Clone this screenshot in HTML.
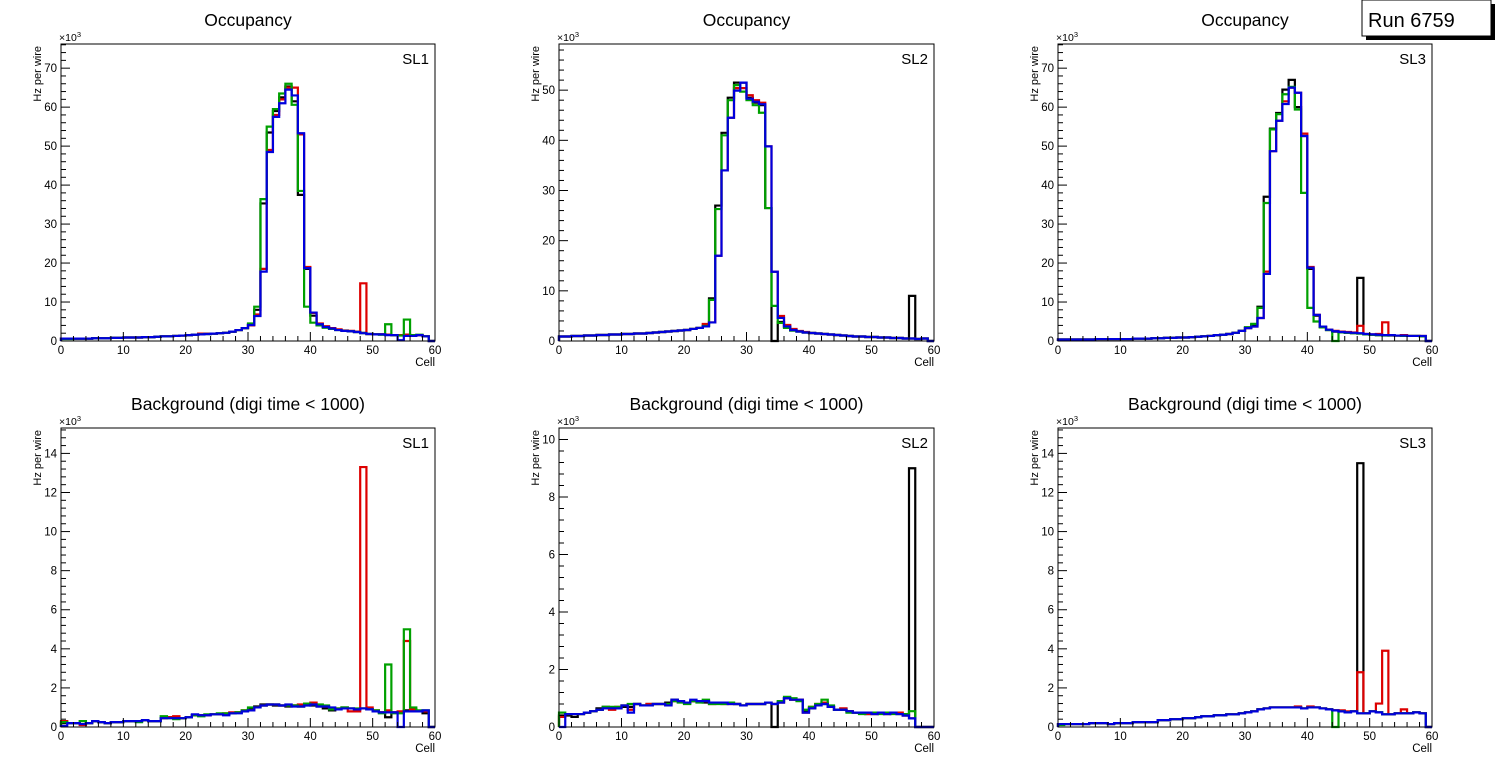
<!DOCTYPE html>
<html><head><meta charset="utf-8"><style>
html,body{margin:0;padding:0;background:#fff;}
svg{display:block;font-family:"Liberation Sans",Arial,sans-serif;}
</style></head><body>
<svg id="c" width="1496" height="772" viewBox="0 0 1496 772" xmlns="http://www.w3.org/2000/svg">
<rect x="0" y="0" width="1496" height="772" fill="#fff"/>
<g>
<rect x="1366" y="4" width="129" height="36" fill="#000"/>
<rect x="1362" y="0" width="129" height="36" fill="#fff" stroke="#000" stroke-width="1"/>
<text x="1368" y="27" font-size="20" fill="#000">Run 6759</text>
</g>
</svg>
<script>
const cells = 60;
// ---- Top SL1 (x10^3 Hz)
const occSL1Black = [0.6,0.6,0.6,0.6,0.6,0.7,0.7,0.7,0.8,0.8,0.9,0.9,0.9,1.0,1.0,1.1,1.2,1.2,1.3,1.4,1.5,1.6,1.7,1.8,1.9,2.0,2.1,2.4,2.8,3.3,4.2,8,35.3,53.5,59,62.5,65.3,61.5,37.5,18.5,6.5,4.2,3.6,3.2,2.9,2.6,2.5,2.3,2.1,1.8,1.7,1.7,1.6,1.5,1.5,1.6,1.4,1.5,1.2,0];
const occSL1Red = [0.6,0.6,0.6,0.6,0.6,0.7,0.7,0.7,0.8,0.8,0.9,0.9,0.9,1.0,1.0,1.1,1.2,1.2,1.3,1.4,1.5,1.6,1.9,1.9,1.9,2.0,2.1,2.4,2.8,3.3,4,6.8,18.5,49,58,62,65,65,53,19,7.2,4.5,3.8,3.3,3,2.7,2.6,2.4,14.8,1.8,1.7,1.7,1.6,1.5,1.5,1.6,1.5,1.5,1.2,0];
const occSL1Green = [0.5,0.5,0.6,0.6,0.6,0.7,0.7,0.7,0.8,0.8,0.9,0.9,0.9,1.0,1.0,1.1,1.2,1.2,1.3,1.4,1.5,1.6,1.7,1.8,1.9,2.0,2.1,2.4,2.8,3.3,4.5,8.8,36.4,55,59.5,63.5,66,60.6,38.5,8.8,4.7,4.0,3.4,3.1,2.8,2.6,2.5,2.3,2.0,1.8,1.7,1.6,4.3,1.5,1.4,5.5,1.5,1.6,1.2,0];
const occSL1Blue = [0.6,0.6,0.6,0.6,0.6,0.7,0.7,0.7,0.8,0.8,0.9,0.9,0.9,1.0,1.0,1.1,1.2,1.2,1.3,1.4,1.5,1.6,1.7,1.8,1.9,2.0,2.1,2.4,2.8,3.3,4.1,6.4,17.8,48.5,57.5,61,64.5,63,53.3,18.7,7.3,4.3,3.6,3.2,2.8,2.6,2.5,2.3,2,1.8,1.7,1.7,1.5,1.5,0.2,1.3,1.3,1.5,1.2,0];
// ---- Top SL2
const occSL2Black = [0.9,0.9,1.0,1.0,1.1,1.1,1.2,1.2,1.3,1.3,1.4,1.4,1.5,1.5,1.6,1.7,1.8,1.9,2.0,2.1,2.2,2.4,2.6,3.0,8.5,27,41.5,48.5,51.5,51.5,48.5,47.5,47,26.5,0,3.8,2.8,2.1,1.9,1.7,1.6,1.5,1.4,1.3,1.2,1.1,1.0,0.9,0.9,0.8,0.8,0.7,0.7,0.6,0.6,0.5,9,0.4,0.5,0];
const occSL2Red = [0.9,0.9,1.0,1.0,1.1,1.1,1.2,1.2,1.3,1.3,1.4,1.4,1.5,1.5,1.6,1.7,1.8,1.9,2.0,2.1,2.2,2.4,2.6,3.4,3.7,17,34,44.5,50.4,50.4,49,48,47.5,38.8,13.8,5.0,3.2,2.4,2.0,1.8,1.6,1.5,1.4,1.3,1.2,1.1,1.0,0.9,0.9,0.8,0.8,0.7,0.7,0.6,0.6,0.5,0.5,0.4,0.5,0];
const occSL2Green = [0.9,0.9,1.0,1.0,1.1,1.1,1.2,1.2,1.3,1.3,1.4,1.4,1.5,1.5,1.6,1.7,1.8,1.9,2.0,2.1,2.2,2.4,2.6,3.0,8.2,26.3,41,48,51,49.7,48,47,45.5,26.5,7,3.6,2.6,2.1,1.9,1.7,1.6,1.5,1.4,1.3,1.2,1.1,1.0,0.9,0.9,0.8,0.8,0.7,0.7,0.6,0.6,0.5,0.5,0.4,0.5,0];
const occSL2Blue = [0.9,0.9,1.0,1.0,1.1,1.1,1.2,1.2,1.3,1.3,1.4,1.4,1.5,1.5,1.6,1.7,1.8,1.9,2.0,2.1,2.2,2.4,2.6,2.9,3.7,17,34,44.5,49.9,51.5,48.3,47.7,47.2,38.8,13.8,4.6,2.9,2.2,1.9,1.7,1.6,1.5,1.4,1.3,1.2,1.1,1.0,0.9,0.9,0.8,0.8,0.7,0.7,0.6,0.6,0.5,0.5,0.4,0.5,0];
// ---- Top SL3
const occSL3Black = [0.4,0.4,0.4,0.4,0.4,0.4,0.5,0.5,0.5,0.5,0.5,0.5,0.6,0.6,0.6,0.7,0.7,0.8,0.8,0.9,0.9,1.0,1.1,1.2,1.3,1.5,1.6,1.8,2.1,2.6,3.5,4.2,8.8,37,54.5,58.5,64.5,67,60,52.6,18.5,6.5,3.6,2.8,2.4,2.2,2.1,2.0,16.2,1.7,1.6,1.5,1.5,1.4,1.4,1.4,1.3,1.3,1.2,0];
const occSL3Red = [0.4,0.4,0.4,0.4,0.4,0.4,0.5,0.5,0.5,0.5,0.5,0.5,0.6,0.6,0.6,0.7,0.7,0.8,0.8,0.9,0.9,1.0,1.1,1.2,1.3,1.5,1.6,1.8,2.1,2.6,3.3,3.7,5.9,17.8,48.7,56.5,61.5,65,63.7,53.2,19,6.7,3.7,2.9,2.6,2.4,2.3,2.2,3.9,1.8,1.7,1.8,4.8,1.5,1.4,1.5,1.3,1.3,1.3,0];
const occSL3Green = [0.4,0.4,0.4,0.4,0.4,0.4,0.5,0.5,0.5,0.5,0.5,0.5,0.6,0.6,0.6,0.7,0.7,0.8,0.8,0.9,0.9,1.0,1.1,1.2,1.3,1.5,1.6,1.8,2.1,2.6,3.5,4.4,8.5,35.4,54.3,58.2,63.3,65.2,59.4,38,8.5,5,3.5,2.8,0,2.2,2.1,2,1.9,1.7,1.6,1.5,1.4,1.5,1.4,1.3,1.3,1.3,1.2,0];
const occSL3Blue = [0.4,0.4,0.4,0.4,0.4,0.4,0.5,0.5,0.5,0.5,0.5,0.5,0.6,0.6,0.6,0.7,0.7,0.8,0.8,0.9,0.9,1.0,1.1,1.2,1.3,1.5,1.6,1.8,2.1,2.6,3.3,3.7,5.9,17.2,48.7,56.5,60.8,65,63.7,52.6,18.8,6.7,3.7,2.9,2.5,2.3,2.2,2.1,2.0,1.8,1.7,1.6,1.5,1.5,1.4,1.4,1.3,1.3,1.3,0];
// ---- Bottom SL1
const bkgSL1Black = [0.2,0.2,0.2,0.15,0.2,0.3,0.25,0.2,0.25,0.25,0.3,0.3,0.3,0.35,0.3,0.3,0.45,0.5,0.45,0.45,0.5,0.6,0.6,0.6,0.65,0.65,0.65,0.7,0.75,0.8,0.9,1.05,1.15,1.15,1.1,1.1,1.05,1.1,1.05,1.15,1.1,1.05,0.95,0.85,0.9,1.0,0.95,0.9,0.95,0.9,0.8,0.75,0.5,0.75,0.75,0.85,0.9,0.8,0.7,0];
const bkgSL1Red = [0.3,0.2,0.2,0.1,0.2,0.3,0.25,0.2,0.25,0.25,0.3,0.3,0.3,0.35,0.3,0.3,0.45,0.5,0.55,0.45,0.5,0.6,0.6,0.6,0.65,0.65,0.7,0.75,0.75,0.85,0.85,1.0,1.1,1.15,1.15,1.1,1.1,1.1,1.15,1.2,1.25,1.1,1.05,0.95,0.95,0.95,0.8,0.8,13.3,1.0,0.85,0.75,0.85,0.75,0.8,4.4,0.9,0.8,0.8,0];
const bkgSL1Green = [0.25,0.2,0.2,0.3,0.2,0.3,0.25,0.2,0.25,0.25,0.3,0.3,0.25,0.35,0.3,0.3,0.55,0.45,0.4,0.45,0.5,0.6,0.55,0.65,0.65,0.7,0.7,0.7,0.75,0.85,1.0,1.0,1.1,1.15,1.15,1.1,1.1,1.1,1.05,1.2,1.15,1.15,1.1,0.9,0.95,1.0,0.95,0.95,0.95,0.9,0.85,0.7,3.2,0.7,0.7,5.0,1.0,0.85,0.85,0];
const bkgSL1Blue = [0.05,0.2,0.2,0.15,0.2,0.3,0.25,0.2,0.25,0.25,0.3,0.3,0.3,0.35,0.3,0.3,0.45,0.45,0.45,0.45,0.5,0.65,0.6,0.6,0.65,0.65,0.6,0.7,0.7,0.8,0.85,1.0,1.1,1.15,1.15,1.1,1.15,1.05,1.05,1.1,1.15,1.05,1.05,1.0,0.9,0.95,0.95,0.9,0.95,0.9,0.8,0.75,0.75,0.75,0,0.8,0.8,0.8,0.85,0];
// ---- Bottom SL2
const bkgSL2Black = [0.4,0.4,0.35,0.45,0.5,0.55,0.65,0.7,0.65,0.65,0.7,0.7,0.8,0.75,0.8,0.8,0.8,0.85,0.95,0.9,0.85,0.9,0.9,0.85,0.85,0.85,0.85,0.85,0.8,0.75,0.8,0.8,0.8,0.85,0,0.85,1.0,0.95,0.95,0.55,0.65,0.75,0.8,0.7,0.6,0.6,0.55,0.5,0.5,0.45,0.45,0.5,0.45,0.5,0.45,0.4,9.0,0,0,0];
const bkgSL2Red = [0.35,0.45,0.45,0.45,0.5,0.55,0.6,0.65,0.6,0.7,0.75,0.6,0.8,0.75,0.8,0.8,0.8,0.75,0.9,0.9,0.85,0.9,0.9,0.9,0.8,0.85,0.8,0.8,0.8,0.75,0.8,0.8,0.8,0.85,0.8,0.85,1.0,0.95,0.95,0.5,0.7,0.8,0.85,0.7,0.6,0.65,0.55,0.5,0.5,0.45,0.45,0.5,0.45,0.5,0.5,0.4,0.3,0,0,0];
const bkgSL2Green = [0.5,0.45,0.45,0.45,0.5,0.55,0.6,0.7,0.7,0.7,0.75,0.8,0.8,0.75,0.75,0.8,0.8,0.8,0.9,0.85,0.8,0.9,0.85,0.95,0.8,0.8,0.8,0.85,0.8,0.75,0.8,0.8,0.8,0.85,0.8,0.9,1.05,1.0,0.9,0.6,0.7,0.8,0.95,0.75,0.6,0.6,0.5,0.5,0.45,0.5,0.5,0.45,0.5,0.45,0.45,0.45,0.55,0,0,0];
const bkgSL2Blue = [0,0.45,0.45,0.45,0.5,0.55,0.6,0.65,0.65,0.65,0.75,0.5,0.8,0.75,0.75,0.8,0.8,0.75,0.95,0.9,0.85,0.95,0.9,0.9,0.85,0.85,0.85,0.8,0.8,0.75,0.8,0.8,0.8,0.85,0.8,0.85,1.0,0.95,0.95,0.5,0.65,0.75,0.8,0.7,0.6,0.6,0.55,0.5,0.5,0.5,0.45,0.5,0.45,0.5,0.45,0.4,0.3,0,0,0];
// ---- Bottom SL3
const bkgSL3Black = [0.15,0.15,0.15,0.15,0.15,0.2,0.2,0.2,0.15,0.2,0.2,0.2,0.25,0.25,0.25,0.25,0.35,0.35,0.4,0.4,0.45,0.45,0.5,0.55,0.55,0.6,0.6,0.65,0.65,0.7,0.75,0.8,0.9,0.95,1.0,1.0,1.0,1.0,1.0,0.95,1.0,1.0,0.95,0.9,0.85,0.8,0.75,0.8,13.5,0.7,0.8,0.75,0.65,0.65,0.7,0.7,0.7,0.75,0.7,0];
const bkgSL3Red = [0.15,0.15,0.15,0.15,0.15,0.2,0.2,0.2,0.15,0.2,0.2,0.2,0.25,0.25,0.25,0.25,0.35,0.35,0.4,0.4,0.45,0.45,0.5,0.55,0.55,0.6,0.6,0.65,0.65,0.7,0.75,0.8,0.9,0.95,1.0,1.0,1.0,1.0,1.05,0.95,1.05,1.0,0.95,0.9,0.85,0.85,0.8,0.8,2.8,0.7,0.8,1.2,3.9,0.65,0.7,0.9,0.7,0.75,0.7,0];
const bkgSL3Green = [0.1,0.15,0.15,0.15,0.15,0.2,0.2,0.2,0.15,0.2,0.2,0.2,0.25,0.25,0.25,0.25,0.35,0.35,0.4,0.4,0.45,0.45,0.5,0.55,0.55,0.6,0.6,0.65,0.65,0.7,0.75,0.8,0.9,0.95,1.0,1.0,1.0,1.0,1.0,0.95,1.0,1.0,0.95,0.9,0,0.8,0.75,0.8,0.7,0.7,0.8,0.75,0.65,0.65,0.7,0.7,0.7,0.75,0.7,0];
const bkgSL3Blue = [0.15,0.15,0.15,0.15,0.15,0.2,0.2,0.2,0.15,0.2,0.2,0.2,0.25,0.25,0.25,0.25,0.35,0.35,0.4,0.4,0.45,0.45,0.5,0.55,0.55,0.6,0.6,0.65,0.65,0.7,0.75,0.8,0.9,0.95,1.0,1.0,1.0,1.0,1.0,0.95,1.0,1.0,0.95,0.9,0.85,0.8,0.75,0.8,0.7,0.7,0.8,0.75,0.65,0.65,0.7,0.7,0.7,0.75,0.7,0];
const xTickLabels = ["0","10","20","30","40","50","60"];
const topYLabels = [0,10,20,30,40,50,60,70];
const botYLabels = [0,2,4,6,8,10,12,14];
const seriesColors = ["#000000","#dd0000","#00a000","#0000dd"];

const NS = "http://www.w3.org/2000/svg";
const svg = document.getElementById('c');
function mk(tag, attrs, parent){ const e=document.createElementNS(NS,tag); for(const k in attrs) e.setAttribute(k,attrs[k]); (parent||svg).appendChild(e); return e; }

const panels = [
 {x0:61,x1:435,y0:44,y1:341,ymax:76.2,title:"Occupancy",sl:"SL1",ylab:topYLabels,minor:2,data:[occSL1Black,occSL1Red,occSL1Green,occSL1Blue]},
 {x0:559,x1:934,y0:44,y1:341,ymax:59.2,title:"Occupancy",sl:"SL2",ylab:[0,10,20,30,40,50],minor:2,data:[occSL2Black,occSL2Red,occSL2Green,occSL2Blue]},
 {x0:1058,x1:1432,y0:44,y1:341,ymax:76.2,title:"Occupancy",sl:"SL3",ylab:topYLabels,minor:2,data:[occSL3Black,occSL3Red,occSL3Green,occSL3Blue]},
 {x0:61,x1:435,y0:428,y1:727,ymax:15.3,title:"Background (digi time < 1000)",sl:"SL1",ylab:botYLabels,minor:0.4,data:[bkgSL1Black,bkgSL1Red,bkgSL1Green,bkgSL1Blue]},
 {x0:559,x1:934,y0:428,y1:727,ymax:10.4,title:"Background (digi time < 1000)",sl:"SL2",ylab:[0,2,4,6,8,10],minor:0.4,data:[bkgSL2Black,bkgSL2Red,bkgSL2Green,bkgSL2Blue]},
 {x0:1058,x1:1432,y0:428,y1:727,ymax:15.3,title:"Background (digi time < 1000)",sl:"SL3",ylab:botYLabels,minor:0.4,data:[bkgSL3Black,bkgSL3Red,bkgSL3Green,bkgSL3Blue]}
];
const seriesNames=["black","red","green","blue"];

panels.forEach((p,pi)=>{
  const g = mk('g',{});
  
  
  const X = v => p.x0 + (v/cells)*(p.x1-p.x0);
  const Y = v => p.y1 - (v/p.ymax)*(p.y1-p.y0);
  const cx=(p.x0+p.x1)/2;
  const t = mk('text',{x:cx,y:p.y0-18,'font-size':17.5,'text-anchor':'middle'},g); t.textContent=p.title;
  
  
  p.data.forEach((arr,si)=>{
    let d = "M"+X(0)+","+Y(0);
    for(let i=0;i<cells;i++){ const v=Math.min(arr[i],p.ymax); d+=" L"+X(i)+","+Y(v)+" L"+X(i+1)+","+Y(v); }
    d += " L"+X(cells)+","+Y(0);
    const path = mk('path',{d:d,fill:'none',stroke:seriesColors[si],'stroke-width':2.2},g);
    
    
  });
  const fr = mk('rect',{x:p.x0,y:p.y0,width:p.x1-p.x0,height:p.y1-p.y0,fill:'none',stroke:'#000','stroke-width':1},g);
  
  
  for(let v=0; v<=cells; v+=2){
    const len = (v%10===0)?9:5;
    mk('line',{x1:X(v),x2:X(v),y1:p.y1,y2:p.y1-len,stroke:'#000','stroke-width':1},g);
  }
  xTickLabels.forEach(s=>{
    const tl = mk('text',{x:X(+s),y:p.y1+13,'font-size':11.5,'text-anchor':'middle'},g); tl.textContent=s;
    
    
  });
  const cl = mk('text',{x:p.x1,y:p.y1+25,'font-size':11.5,'text-anchor':'end'},g); cl.textContent="Cell";
  
  
  for(let k=0; k*p.minor<=p.ymax+1e-9; k++){
    const v=k*p.minor; const major = (k%5===0);
    mk('line',{x1:p.x0,x2:p.x0+(major?9:5),y1:Y(v),y2:Y(v),stroke:'#000','stroke-width':1},g);
  }
  p.ylab.forEach(v=>{
    const yl = mk('text',{x:p.x0-4,y:Y(v)+4,'font-size':11.5,'text-anchor':'end'},g); yl.textContent=String(v);
    
    
  });
  const ex = mk('text',{x:p.x0-2,y:p.y0-3,'font-size':10.5},g);
  ex.innerHTML = '×10<tspan dy="-4" font-size="7.5">3</tspan>';
  
  
  const yt = mk('text',{x:0,y:0,'font-size':11,'text-anchor':'end',transform:'translate('+(p.x0-20)+','+(p.y0+2)+') rotate(-90)'},g);
  yt.textContent="Hz per wire";
  
  
  const sl = mk('text',{x:p.x1-6,y:p.y0+20,'font-size':15,'text-anchor':'end'},g); sl.textContent=p.sl;
  
  
});
</script>
</body></html>
